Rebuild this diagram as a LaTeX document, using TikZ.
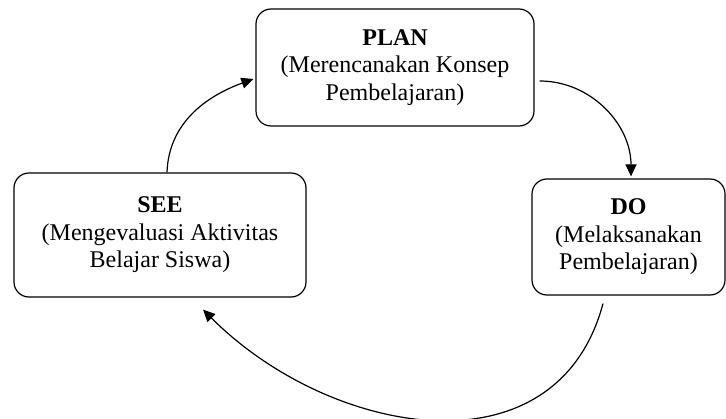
\documentclass[tikz,border=0pt]{standalone}
\usepackage{fontspec}
\setmainfont{Liberation Serif}
\usetikzlibrary{arrows.meta}

\begin{document}
\begin{tikzpicture}
  [x=1pt, y=1pt,
   every node/.style={draw, rounded corners=15pt, line width=1.2pt, align=center,
     inner sep=0pt, font=\fontsize{24}{27.5}\selectfont},
   arr/.style={line width=1.2pt, -{Triangle[length=12pt,width=11pt]}}]
  \useasboundingbox (0,0) rectangle (726,418);
  \node[minimum width=278pt, minimum height=117pt] (plan) at (395,350.5)
    {\textbf{PLAN}\\(Merencanakan Konsep\\Pembelajaran)};
  \node[minimum width=193pt, minimum height=116pt] (do) at (628.5,181)
    {\textbf{DO}\\(Melaksanakan\\Pembelajaran)};
  \node[minimum width=292pt, minimum height=124pt] (see) at (160,183)
    {\textbf{SEE}\\(Mengevaluasi Aktivitas\\Belajar Siswa)};
  \draw[arr] ([xshift=7pt]see.north) to[out=88, in=200] ([xshift=-2pt, yshift=-11.5pt]plan.west);
  \draw[arr] ([xshift=5pt, yshift=-13.5pt]plan.east) to[out=0, in=90] ([xshift=2.5pt, yshift=2pt]do.north);
  \draw[arr] ([xshift=-25.5pt, yshift=-8pt]do.south) to[out=-105, in=-45, looseness=1.15] ([xshift=43pt, yshift=-12pt]see.south);
\end{tikzpicture}
\end{document}
